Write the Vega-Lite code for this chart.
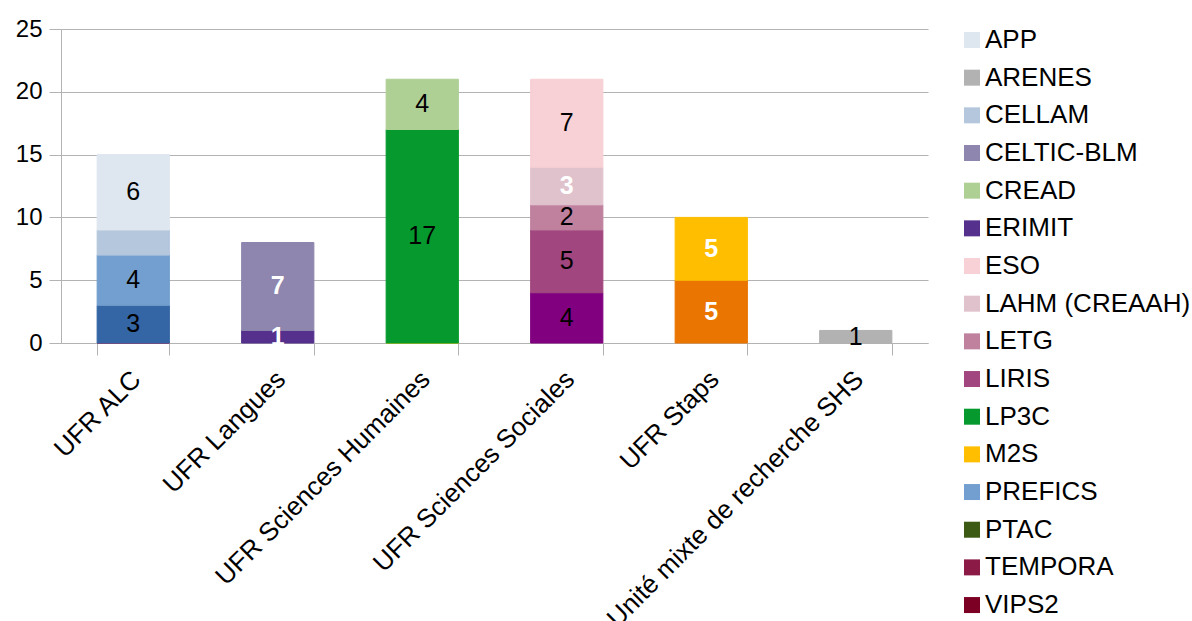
{
  "$schema": "https://vega.github.io/schema/vega-lite/v6.json",
  "width": 867,
  "height": 314,
  "autosize": {"type": "none"},
  "padding": {"left": 61, "top": 29, "right": 264, "bottom": 278},
  "background": "white",
  "config": {
    "font": "Liberation Sans",
    "view": {"stroke": null},
    "axis": {"labelColor": "black", "labelFont": "Liberation Sans", "titleFont": "Liberation Sans"},
    "legend": {"labelFont": "Liberation Sans"}
  },
  "data": {
    "values": [
      {"ufr": "UFR ALC", "series": "Équipe non listée 2", "value": 0},
      {"ufr": "UFR ALC", "series": "Équipe non listée 1", "value": 3},
      {"ufr": "UFR ALC", "series": "PREFICS", "value": 4},
      {"ufr": "UFR ALC", "series": "CELLAM", "value": 2},
      {"ufr": "UFR ALC", "series": "APP", "value": 6},
      {"ufr": "UFR Langues", "series": "ERIMIT", "value": 1},
      {"ufr": "UFR Langues", "series": "CELTIC-BLM", "value": 7},
      {"ufr": "UFR Sciences Humaines", "series": "M2S", "value": 0},
      {"ufr": "UFR Sciences Humaines", "series": "LP3C", "value": 17},
      {"ufr": "UFR Sciences Humaines", "series": "CREAD", "value": 4},
      {"ufr": "UFR Sciences Sociales", "series": "Équipe non listée 3", "value": 4},
      {"ufr": "UFR Sciences Sociales", "series": "LIRIS", "value": 5},
      {"ufr": "UFR Sciences Sociales", "series": "LETG", "value": 2},
      {"ufr": "UFR Sciences Sociales", "series": "LAHM (CREAAH)", "value": 3},
      {"ufr": "UFR Sciences Sociales", "series": "ESO", "value": 7},
      {"ufr": "UFR Staps", "series": "Équipe non listée 4", "value": 5},
      {"ufr": "UFR Staps", "series": "M2S", "value": 5},
      {"ufr": "Unité mixte de recherche SHS", "series": "ARENES", "value": 1}
    ]
  },
  "encoding": {
    "x": {
      "field": "ufr",
      "type": "nominal",
      "sort": ["UFR ALC", "UFR Langues", "UFR Sciences Humaines", "UFR Sciences Sociales", "UFR Staps", "Unité mixte de recherche SHS"],
      "scale": {"paddingInner": 0.5, "paddingOuter": 0.25},
      "axis": {
        "title": null,
        "labelAngle": -45,
        "labelAlign": "right",
        "labelBaseline": "middle",
        "labelFontSize": 26,
        "labelLimit": 500,
        "labelOffset": 3,
        "tickBand": "extent",
        "tickSize": 12,
        "tickColor": "#b3b3b3",
        "domainColor": "#b3b3b3",
        "grid": false,
        "labelPadding": 20
      }
    }
  },
  "layer": [
    {
      "mark": {"type": "bar", "strokeWidth": 1},
      "encoding": {
        "y": {
          "field": "value",
          "type": "quantitative",
          "stack": "zero",
          "scale": {"domain": [0, 25], "nice": false},
          "axis": {
            "title": null,
            "values": [0, 5, 10, 15, 20, 25],
            "labelFontSize": 24,
            "tickSize": 12,
            "tickColor": "#b3b3b3",
            "domainColor": "#b3b3b3",
            "gridColor": "#b3b3b3",
            "labelPadding": 7
          }
        },
        "color": {
          "field": "series",
          "type": "nominal",
          "scale": {
            "domain": ["APP", "ARENES", "CELLAM", "CELTIC-BLM", "CREAD", "ERIMIT", "ESO", "LAHM (CREAAH)", "LETG", "LIRIS", "LP3C", "M2S", "PREFICS", "PTAC", "TEMPORA", "VIPS2", "Équipe non listée 1", "Équipe non listée 2", "Équipe non listée 3", "Équipe non listée 4"],
            "range": ["#dee6ef", "#b2b2b2", "#b4c7dc", "#8e86ae", "#afd095", "#55308d", "#f7d1d5", "#e0c2cd", "#bf819e", "#a1467e", "#069a2e", "#ffbf00", "#729fcf", "#3c5a14", "#8b1a46", "#7c0024", "#3465a4", "#a1134b", "#800080", "#ea7500"]
          },
          "legend": {
            "title": null,
            "orient": "none",
            "legendX": 898,
            "legendY": -2,
            "values": ["APP", "ARENES", "CELLAM", "CELTIC-BLM", "CREAD", "ERIMIT", "ESO", "LAHM (CREAAH)", "LETG", "LIRIS", "LP3C", "M2S", "PREFICS", "PTAC", "TEMPORA", "VIPS2"],
            "symbolType": "square",
            "symbolSize": 256,
            "symbolStrokeWidth": 0,
            "labelFontSize": 26,
            "labelColor": "black",
            "labelLimit": 400,
            "labelOffset": 0,
            "rowPadding": 11.67,
            "padding": 0
          }
        },
        "stroke": {
          "field": "series",
          "type": "nominal",
          "scale": {
            "domain": ["APP", "ARENES", "CELLAM", "CELTIC-BLM", "CREAD", "ERIMIT", "ESO", "LAHM (CREAAH)", "LETG", "LIRIS", "LP3C", "M2S", "PREFICS", "PTAC", "TEMPORA", "VIPS2", "Équipe non listée 1", "Équipe non listée 2", "Équipe non listée 3", "Équipe non listée 4"],
            "range": ["#dee6ef", "#b2b2b2", "#b4c7dc", "#8e86ae", "#afd095", "#55308d", "#f7d1d5", "#e0c2cd", "#bf819e", "#a1467e", "#069a2e", "#ffbf00", "#729fcf", "#3c5a14", "#8b1a46", "#7c0024", "#3465a4", "#a1134b", "#800080", "#ea7500"]
          },
          "legend": null
        },
        "order": {"field": "series", "sort": "descending"}
      }
    },
    {
      "transform": [
        {"stack": "value", "groupby": ["ufr"], "sort": [{"field": "series", "order": "descending"}], "as": ["v0", "v1"]},
        {"filter": "datum.value > 0 && datum.series !== 'CELLAM' && indexof(['ERIMIT','CELTIC-BLM','LAHM (CREAAH)','M2S','Équipe non listée 4'], datum.series) < 0"},
        {"calculate": "(datum.v0 + datum.v1) / 2", "as": "mid"}
      ],
      "mark": {"type": "text", "fontSize": 25, "baseline": "middle", "align": "center", "color": "black"},
      "encoding": {
        "y": {"field": "mid", "type": "quantitative"},
        "text": {"field": "value", "type": "quantitative"}
      }
    },
    {
      "transform": [
        {"stack": "value", "groupby": ["ufr"], "sort": [{"field": "series", "order": "descending"}], "as": ["v0", "v1"]},
        {"filter": "datum.value > 0 && indexof(['ERIMIT','CELTIC-BLM','LAHM (CREAAH)','M2S','Équipe non listée 4'], datum.series) >= 0"},
        {"calculate": "(datum.v0 + datum.v1) / 2", "as": "mid"}
      ],
      "mark": {"type": "text", "fontSize": 25, "fontWeight": "bold", "baseline": "middle", "align": "center", "color": "white"},
      "encoding": {
        "y": {"field": "mid", "type": "quantitative"},
        "text": {"field": "value", "type": "quantitative"}
      }
    }
  ]
}
